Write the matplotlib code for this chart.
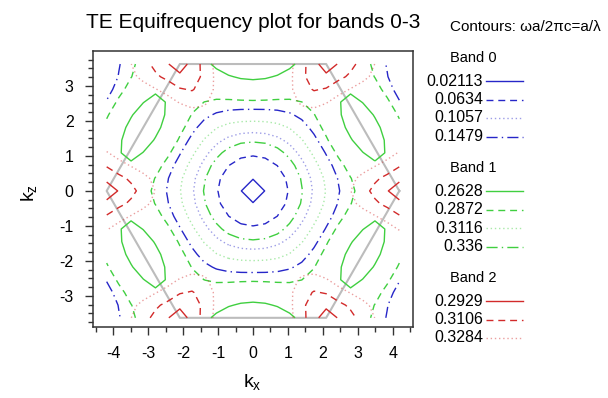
import numpy as np
import matplotlib.pyplot as plt
from matplotlib.lines import Line2D

plt.rcParams['font.family'] = ['Liberation Sans', 'DejaVu Sans']
plt.rcParams['axes.unicode_minus'] = False

# ===== contour levels (omega a / 2 pi c), as listed in the legend =====
band_names = ['Band 0', 'Band 1', 'Band 2']
band0_levels = [0.02113, 0.0634, 0.1057, 0.1479]
band1_levels = [0.2628, 0.2872, 0.3116, 0.336]
band2_levels = [0.2929, 0.3106, 0.3284]
band_colors = ['#2626c8', '#40cf40', '#d22a2a']

# ===== band frequency at Gamma, M, K =====
band0_gmk = [0.0, 0.230, 0.190]
band1_gmk = [0.3935, 0.2444, 0.278]
band2_k = 0.2825          # bottom of band 2 at K
band2_slope = 0.0408      # d(omega)/dk away from K
band2_warp = 0.19         # steeper toward M than toward Gamma

# ===== triangular lattice (a = 1) =====
a1 = np.array([1.0, 0.0]); a2 = np.array([0.5, np.sqrt(3)/2]); a3 = a2 - a1
b1 = 2*np.pi*np.array([1.0, -1/np.sqrt(3)]); b2 = 2*np.pi*np.array([0.0, 2/np.sqrt(3)])
dM = np.linalg.norm(b2)/2     # |Gamma-M|
dK = 4*np.pi/3                # |Gamma-K|

# k grid over the rectangle holding the Brillouin zone
kx = np.linspace(-dK, dK, 25)
kz = np.linspace(-dM, dM, 21)
KX, KZ = np.meshgrid(kx, kz)

def nearest(points):
    """distance, angle and index of the nearest of a set of k points"""
    best = np.full(KX.shape, np.inf); ang = np.zeros_like(KX); idx = np.zeros(KX.shape, int)
    for i, p in enumerate(points):
        dx = KX - p[0]; dz = KZ - p[1]
        r = np.hypot(dx, dz)
        sel = r < best - 1e-9
        best[sel] = r[sel]; ang[sel] = np.arctan2(dz, dx)[sel]; idx[sel] = i
    return best, ang, idx

gammas = [m*b1 + n*b2 for m in range(-2, 3) for n in range(-2, 3)]
d, th, _ = nearest(gammas)
aniso = (1 + np.cos(6*th))/2      # 1 toward K, 0 toward M

kpts = [g + s*np.array([dK, 0.0]) for g in gammas for s in (1, -1)]
ksign = np.array([s for g in gammas for s in (1, -1)])
rk, psi, ik = nearest(kpts)
warp = ksign[ik]*np.cos(3*psi)    # +1 toward M, -1 toward Gamma

def gamma_band(w):
    wg, wm, wk = w
    s = (wm - wg)/dM
    lift = wk - (wg + s*dK)
    return wg + s*d + lift*aniso*(d/dK)**4

band2 = band2_k + band2_slope*rk*(1 + band2_warp*warp)

bands = [gamma_band(band0_gmk), gamma_band(band1_gmk), band2]
level_sets = [band0_levels, band1_levels, band2_levels]
styles = ['solid', (0, (5, 3.5)), (0, (1, 2)), (0, (8, 3, 1, 3))]
alphas = [1, 1, 0.45, 1]

# ===== figure =====
W, H = 608, 398
fig = plt.figure(figsize=(W/100, H/100), dpi=100)
ax = fig.add_axes([93/W, 1 - 327/H, 320/W, 276/H])

# Brillouin zone hexagon
ang = np.radians(np.arange(0, 361, 60))
ax.plot(dK*np.cos(ang), dK*np.sin(ang), color='#bcbcbc', lw=1.5, zorder=1)

for surf, levels, col in zip(bands, level_sets, band_colors):
    for lev, ls, al in zip(levels, styles, alphas):
        ax.contour(KX, KZ, surf, levels=[lev], colors=[col], linestyles=[ls],
                   linewidths=1.0, alpha=al, zorder=2)

ax.set_xlim(-4.58, 4.58); ax.set_ylim(-3.89, 4.0)
ax.set_xticks(range(-4, 5)); ax.set_xticks(np.arange(-4.5, 4.6, 0.5), minor=True)
ax.set_yticks(range(-3, 4)); ax.set_yticks(np.arange(-3.75, 3.8, 0.25), minor=True)
ax.tick_params(which='both', direction='out', top=False, right=False,
               labelsize=11.5, pad=8, width=1, color='#333333')
ax.tick_params(which='major', length=6)
ax.tick_params(which='minor', length=3.5)
for sp in ax.spines.values():
    sp.set_linewidth(1.1); sp.set_color('#333333')

def px(x, y):
    return x/W, 1 - y/H

fig.text(*px(253, 22), 'TE Equifrequency plot for bands 0-3', fontsize=15,
         ha='center', va='center')
fig.text(*px(252, 383), r'k$_\mathregular{x}$', fontsize=14, ha='center', va='center')
fig.text(*px(30, 193), r'k$_\mathregular{z}$', fontsize=14, ha='center', va='center',
         rotation=90)

# ===== legend at right =====
fig.text(*px(450, 27), 'Contours: ωa/2πc=a/λ', fontsize=11, ha='left', va='center')
y = 58
for name, levels, col in zip(band_names, level_sets, band_colors):
    fig.text(*px(450, y), name, fontsize=10.5, ha='left', va='center')
    y += 23
    for lev, ls, al in zip(levels, styles, alphas):
        fig.text(*px(483, y), f'{lev:g}', fontsize=11.5, ha='right', va='center')
        fig.add_artist(Line2D([486/W, 523/W], [1 - y/H]*2, color=col, lw=1.0,
                              linestyle=ls, alpha=al, transform=fig.transFigure))
        y += 18.5
    y += 13

fig.savefig('out.png', dpi=100)
